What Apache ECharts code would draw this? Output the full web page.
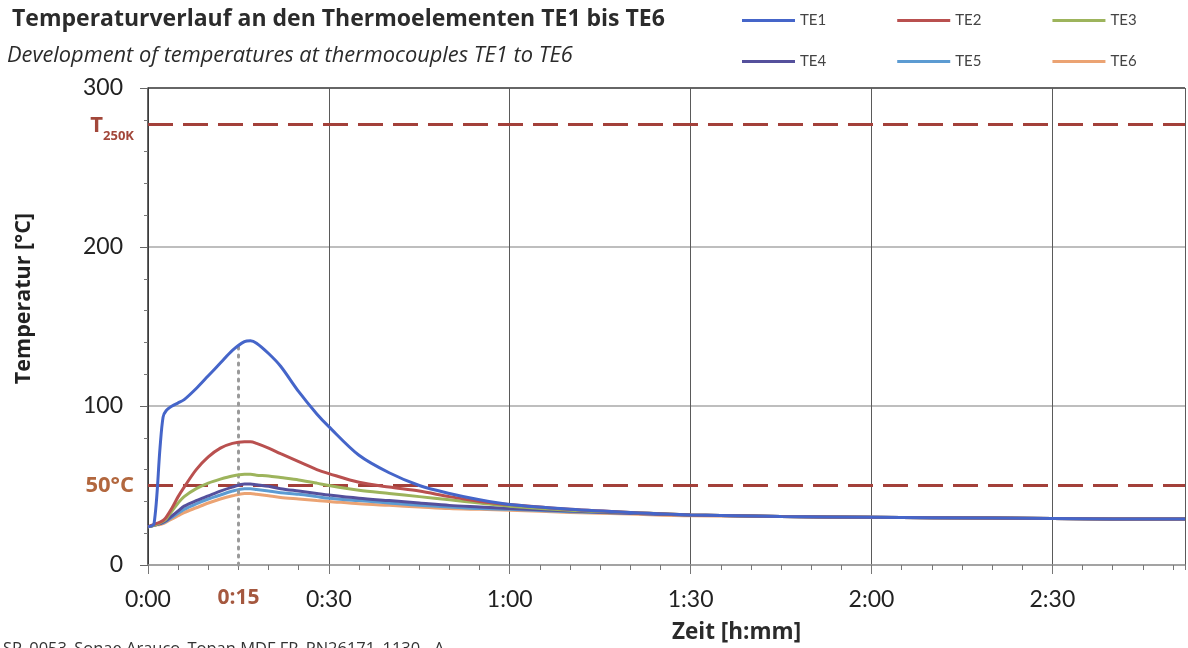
<!DOCTYPE html>
<html>
<head>
<meta charset="utf-8">
<script src="https://cdn.jsdelivr.net/npm/echarts@6/dist/echarts.min.js"></script>
<style>
  html, body { margin: 0; padding: 0; background: #fff; }
  #chart { width: 1188px; height: 648px; }
</style>
</head>
<body>
<div id="chart"></div>
<script>
// time in minutes since start
const timeMin = [0, 1, 2, 2.5, 3, 4, 5, 6, 8, 10, 12, 14, 16, 17, 18, 20, 22, 25, 28, 30,
  35, 40, 45, 50, 55, 60, 70, 80, 90, 105, 120, 140, 160, 172];

const te1 = [24, 26, 74, 93, 97, 100, 102, 104, 111, 119, 127, 135, 140.5, 141, 139.5, 133, 125, 109, 95, 87,
  69, 58, 50, 45, 41, 38, 35, 33, 31.5, 30.5, 30, 29.5, 29, 29];
const te2 = [24, 25.5, 27, 28, 30, 36, 43, 49, 60, 68, 73.5, 76.5, 77.5, 77.5, 76.5, 73.5, 70, 65, 60, 57.5,
  52, 49, 46.5, 43, 40, 38, 35, 33, 31.5, 30.5, 30, 29.5, 29, 29];
const te3 = [24, 25, 26.5, 27.5, 29, 34, 39, 43, 48, 51.5, 54, 56, 57, 57, 56.5, 56, 55, 53.5, 51.5, 50,
  47, 45, 43, 41, 39, 37, 34.5, 33, 31.5, 30.5, 30, 29.5, 29, 29];
const te4 = [24, 25, 26, 27, 28, 31, 34, 37, 40.5, 43.5, 46.5, 49, 51, 51, 50.5, 49.5, 48, 46.5, 45, 44,
  42, 40.5, 39, 37.5, 36.5, 35.5, 34, 32.5, 31.5, 30.5, 30, 29.5, 29, 29];
const te5 = [24, 25, 26, 26.5, 27.5, 30, 32.5, 35, 38.5, 41.5, 44, 46.5, 48, 48, 47.5, 46.5, 45.5, 44.5, 43, 42,
  40.5, 39, 37.5, 36.5, 35.5, 35, 33.5, 32.5, 31.5, 30.5, 30, 29.5, 29, 29];
const te6 = [24, 25, 25.5, 26, 27, 29, 31, 33, 36, 39, 41.5, 43.5, 45, 45, 44.5, 43.5, 42.5, 41.5, 40.5, 40,
  38.5, 37.5, 36.5, 35.5, 35, 34.5, 33, 32, 31, 30.5, 30, 29.5, 29, 29];

const seriesNames = ['TE1', 'TE2', 'TE3', 'TE4', 'TE5', 'TE6'];
const seriesValues = [te1, te2, te3, te4, te5, te6];
const seriesColors = ['#4565c9', '#b9504f', '#9db45c', '#55509c', '#5c9bd2', '#eba373'];

const xTickLabels = ['0:00', '0:30', '1:00', '1:30', '2:00', '2:30'];
const yTickLabels = ['0', '100', '200', '300'];

const tLimit = 277;      // T 250K line
const tFifty = 50;       // 50 °C line
const markTime = 15;     // 0:15 marker
const markTop = 140;     // top of dotted marker

const font = 'Lato, "Open Sans", sans-serif';
const font2 = '"Open Sans", Lato, sans-serif';
const chart = echarts.init(document.getElementById('chart'));

const series = seriesNames.map((name, k) => ({
  name: name,
  type: 'line',
  xAxisIndex: 0,
  showSymbol: false,
  smooth: 0.3,
  z: 3 + (5 - k),
  lineStyle: { width: 3, color: seriesColors[k] },
  itemStyle: { color: seriesColors[k] },
  data: timeMin.map((t, i) => [t, seriesValues[k][i]])
}));

series[0].markLine = {
  silent: true,
  symbol: 'none',
  animation: false,
  data: [
    {
      yAxis: tLimit,
      lineStyle: { color: '#a3403a', width: 3, type: [25, 10] },
      label: {
        position: 'start', distance: 14,
        formatter: '{t|T}{s|250K}',
        rich: {
          t: { fontFamily: font2, fontSize: 22, fontWeight: 'bold', color: '#a2473a', verticalAlign: 'bottom', lineHeight: 24 },
          s: { fontFamily: font2, fontSize: 13, fontWeight: 'bold', color: '#a2473a', verticalAlign: 'bottom', padding: [0, 0, -6, 0], lineHeight: 24 }
        }
      }
    },
    {
      yAxis: tFifty,
      lineStyle: { color: '#a3403a', width: 3, type: [25, 10] },
      label: {
        position: 'start', distance: 14, formatter: '50°C',
        fontFamily: font2, fontSize: 22, fontWeight: 'bold', color: '#b2673e'
      }
    },
    [
      {
        coord: [markTime, 0],
        lineStyle: { color: '#9a9a9a', width: 3, type: [2, 6], cap: 'round' },
        label: {
          position: 'start', distance: 23, formatter: '0:15',
          fontFamily: font2, fontSize: 21, fontWeight: 'bold', color: '#a5583f'
        }
      },
      { coord: [markTime, markTop] }
    ]
  ]
};

const option = {
  backgroundColor: '#ffffff',
  animation: false,
  textStyle: { fontFamily: font },
  title: [
    {
      text: 'Temperaturverlauf an den Thermoelementen TE1 bis TE6',
      left: 7, top: 3,
      textStyle: { fontFamily: font2, fontSize: 23, fontWeight: 'bold', color: '#2b2b2b' }
    },
    {
      text: 'Development of temperatures at thermocouples TE1 to TE6',
      left: 2, top: 40,
      textStyle: { fontFamily: font2, fontSize: 21.8, fontStyle: 'italic', fontWeight: 'normal', color: '#2b2b2b' }
    },
    {
      text: 'Zeit [h:mm]',
      left: 667, top: 616,
      textStyle: { fontFamily: font2, fontSize: 22.5, fontWeight: 'bold', color: '#2b2b2b' }
    },
    {
      text: 'SP_0053_Sonae Arauco_Topan MDF FR_PN26171_1130 - A',
      left: -2, top: 636,
      textStyle: { fontFamily: font2, fontSize: 16.5, fontWeight: 'normal', color: '#333' }
    }
  ],
  legend: [
    {
      data: seriesNames.slice(0, 3),
      left: 737, top: 8,
      icon: 'rect', itemWidth: 53, itemHeight: 3, itemGap: 71,
      textStyle: { fontFamily: font, fontSize: 15, color: '#444', width: 30 }
    },
    {
      data: seriesNames.slice(3, 6),
      left: 737, top: 49,
      icon: 'rect', itemWidth: 53, itemHeight: 3, itemGap: 71,
      textStyle: { fontFamily: font, fontSize: 15, color: '#444', width: 30 }
    }
  ],
  grid: { left: 148, right: 3, top: 88, bottom: 83, containLabel: false },
  xAxis: [
    {
      type: 'value', min: 0, max: 172, interval: 30,
      axisLine: { show: true, lineStyle: { color: '#9a9a9a', width: 1.5 } },
      axisTick: { show: true, length: 9, lineStyle: { color: '#777' } },
      axisLabel: {
        margin: 23, fontSize: 23, color: '#222', showMaxLabel: false,
        formatter: v => (v % 30 === 0 ? xTickLabels[v / 30] : '')
      },
      splitLine: { show: true, lineStyle: { color: '#5a5a5a', width: 1 } }
    },
    {
      type: 'value', min: 0, max: 172, interval: 5, position: 'bottom',
      axisLine: { show: false },
      axisTick: { show: true, length: 5, lineStyle: { color: '#777' } },
      axisLabel: { show: false },
      splitLine: { show: false }
    }
  ],
  yAxis: {
    type: 'value', min: 0, max: 300, interval: 100,
    name: 'Temperatur [°C]', nameLocation: 'middle', nameGap: 113,
    nameTextStyle: { fontFamily: font2, fontSize: 21.5, fontWeight: 'bold', color: '#222', padding: [0, 0, 0, 56] },
    axisLine: { show: true, lineStyle: { color: '#333', width: 1.5 } },
    axisTick: { show: true, length: 8, lineStyle: { color: '#666' } },
    minorTick: { show: true, splitNumber: 5, length: 4, lineStyle: { color: '#777' } },
    axisLabel: {
      margin: 25, fontSize: 23, color: '#222',
      formatter: v => yTickLabels[v / 100]
    },
    splitLine: { show: true, lineStyle: { color: ['#a8a8a8', '#a8a8a8', '#a8a8a8', '#333'], width: 1.5 } }
  },
  series: series
};

chart.setOption(option);
</script>
</body>
</html>
